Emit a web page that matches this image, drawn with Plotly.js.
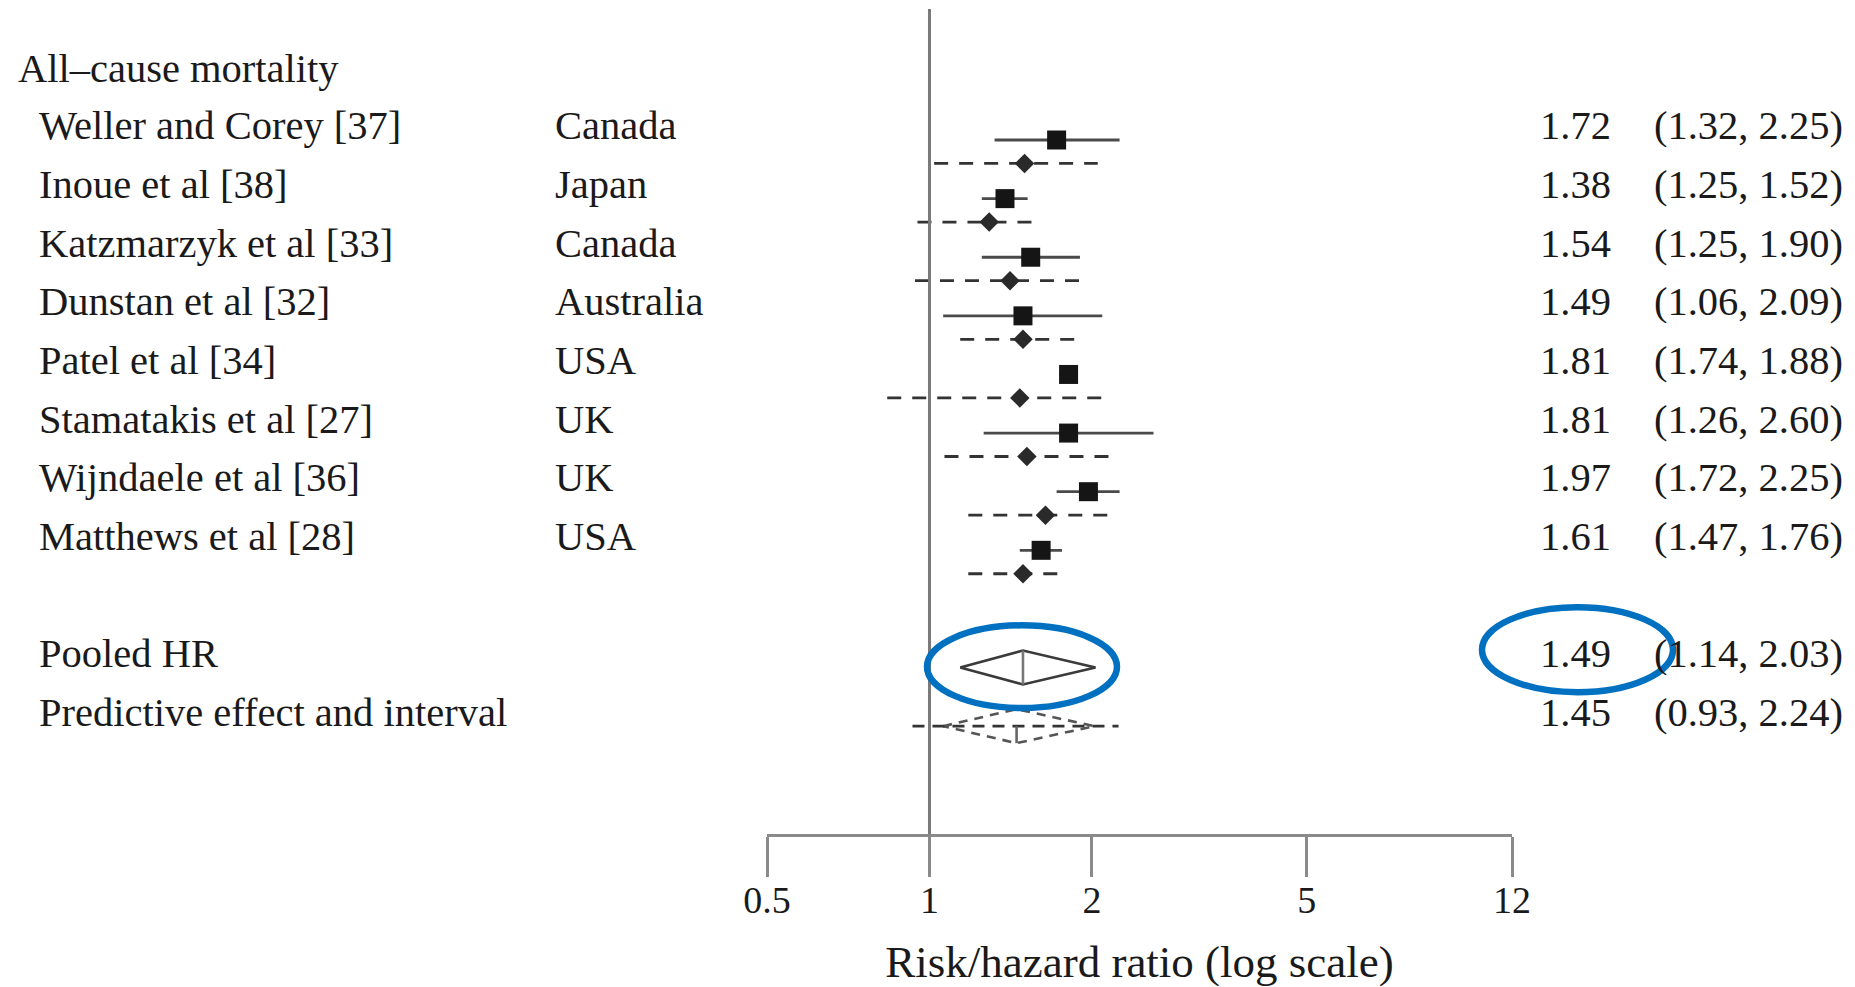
<!DOCTYPE html>
<html>
<head>
<meta charset="utf-8">
<script src="https://cdn.plot.ly/plotly-3.0.1.min.js"></script>
<style>html,body{margin:0;padding:0;background:#fff;}#chart{width:1855px;height:987px;}</style>
</head>
<body>
<div id="chart"></div>
<script>
// ---- data ----
const header = "All\u2013cause mortality";
const studies = ["Weller and Corey [37]", "Inoue et al [38]", "Katzmarzyk et al [33]", "Dunstan et al [32]",
  "Patel et al [34]", "Stamatakis et al [27]", "Wijndaele et al [36]", "Matthews et al [28]"];
const countries = ["Canada", "Japan", "Canada", "Australia", "USA", "UK", "UK", "USA"];
const hr = [1.72, 1.38, 1.54, 1.49, 1.81, 1.81, 1.97, 1.61];
const hrLow = [1.32, 1.25, 1.25, 1.06, 1.74, 1.26, 1.72, 1.47];
const hrHigh = [2.25, 1.52, 1.90, 2.09, 1.88, 2.60, 2.25, 1.76];
const shrunkEst = [1.50, 1.29, 1.41, 1.49, 1.47, 1.515, 1.64, 1.49];
const shrunkLow = [1.02, 0.95, 0.94, 1.14, 0.835, 1.066, 1.18, 1.18];
const shrunkHigh = [2.05, 1.56, 1.90, 1.89, 2.17, 2.16, 2.19, 1.75];
const summaryLabels = ["Pooled HR", "Predictive effect and interval"];
const summaryEst = [1.49, 1.45];
const summaryLow = [1.14, 0.93];
const summaryHigh = [2.03, 2.24];
const predDiamond = [1.06, 2.02];
const tickVals = [0.5, 1, 2, 5, 12];
const tickText = ["0.5", "1", "2", "5", "12"];
const xTitle = "Risk/hazard ratio (log scale)";

// ---- layout helpers ----
const FONT = "Liberation Serif, Times New Roman, serif";
const TXT = "#1a1a1a";
const n = studies.length;
const rowY = i => i;               // square row
const subY = i => i + 0.4;         // shrunk estimate row
const pooledY = n + 1;
const predY = n + 2;
const textOff = -0.24;
const dh = 0.29;

const traces = [];
// solid CI lines
let cx = [], cy = [];
for (let i = 0; i < n; i++) { cx.push(hrLow[i], hrHigh[i], null); cy.push(rowY(i), rowY(i), null); }
traces.push({x: cx, y: cy, mode: "lines", line: {color: "#4a4a4a", width: 2.8}, hoverinfo: "skip"});
// dashed intervals
let dx = [], dy = [];
for (let i = 0; i < n; i++) { dx.push(shrunkLow[i], shrunkHigh[i], null); dy.push(subY(i), subY(i), null); }
traces.push({x: dx, y: dy, mode: "lines", line: {color: "#333", width: 2.8, dash: "14px,11px"}, hoverinfo: "skip"});
// squares
traces.push({x: hr, y: studies.map((s, i) => rowY(i)), mode: "markers",
  marker: {symbol: "square", size: 19, color: "#151515"}});
// diamonds
traces.push({x: shrunkEst, y: studies.map((s, i) => subY(i)), mode: "markers",
  marker: {symbol: "diamond", size: 15, color: "#2a2a2a"}});
// pooled diamond
traces.push({x: [summaryLow[0], summaryEst[0], summaryHigh[0], summaryEst[0], summaryLow[0]],
  y: [pooledY, pooledY - dh, pooledY, pooledY + dh, pooledY], mode: "lines",
  line: {color: "#3a3a3a", width: 2.6}, hoverinfo: "skip"});
traces.push({x: [summaryEst[0], summaryEst[0]], y: [pooledY - dh, pooledY + dh], mode: "lines",
  line: {color: "#777", width: 2.6}, hoverinfo: "skip"});
// predictive diamond (dashed) and interval
traces.push({x: [predDiamond[0], summaryEst[1], predDiamond[1], summaryEst[1], predDiamond[0]],
  y: [predY, predY - dh, predY, predY + dh, predY], mode: "lines",
  line: {color: "#555", width: 2.6, dash: "9px,7px"}, hoverinfo: "skip"});
traces.push({x: [summaryLow[1], summaryHigh[1]], y: [predY, predY], mode: "lines",
  line: {color: "#333", width: 2.6, dash: "12px,8px"}, hoverinfo: "skip"});
traces.push({x: [summaryEst[1], summaryEst[1]], y: [predY, predY + dh], mode: "lines",
  line: {color: "#666", width: 2.6}, hoverinfo: "skip"});
// reference line at 1
traces.push({x: [1, 1], y: [-2.235, 11.84], mode: "lines", line: {color: "#7a7a7a", width: 3}, hoverinfo: "skip"});

// ---- text columns ----
const W = 745, L = 767;
const px = p => (p - L) / W;
const ann = [];
const addText = (text, xpix, y, anchor) => ann.push({text: text, xref: "paper", yref: "y", x: px(xpix), y: y,
  xanchor: anchor, yanchor: "middle", showarrow: false, font: {family: FONT, size: 40.5, color: TXT}});
addText(header, 16, -1.22, "left");
const fmt = v => v.toFixed(2);
for (let i = 0; i < n; i++) {
  addText(studies[i], 37, rowY(i) + textOff, "left");
  addText(countries[i], 553, rowY(i) + textOff, "left");
  addText(fmt(hr[i]), 1613, rowY(i) + textOff, "right");
  addText("(" + fmt(hrLow[i]) + ", " + fmt(hrHigh[i]) + ")", 1652, rowY(i) + textOff, "left");
}
const sumRows = [pooledY, predY];
for (let k = 0; k < 2; k++) {
  addText(summaryLabels[k], 37, sumRows[k] + textOff, "left");
  addText(fmt(summaryEst[k]), 1613, sumRows[k] + textOff, "right");
  addText("(" + fmt(summaryLow[k]) + ", " + fmt(summaryHigh[k]) + ")", 1652, sumRows[k] + textOff, "left");
}

const layout = {
  width: 1855, height: 987,
  margin: {l: 767, r: 343, t: 9, b: 153, pad: 0},
  paper_bgcolor: "#fff", plot_bgcolor: "#fff",
  showlegend: false,
  xaxis: {type: "log", range: [Math.log10(0.5), Math.log10(12)], tickvals: tickVals, ticktext: tickText,
    showgrid: false, zeroline: false, showline: true, linecolor: "#8a8a8a", linewidth: 3,
    ticks: "outside", ticklen: 40, tickwidth: 3, tickcolor: "#8a8a8a", ticklabelstandoff: -10,
    tickfont: {family: FONT, size: 38, color: TXT}, automargin: false,
    title: {text: xTitle, font: {family: FONT, size: 45, color: TXT}, standoff: 26}},
  yaxis: {range: [11.84, -2.235], visible: false, showgrid: false, zeroline: false},
  annotations: ann,
  shapes: [
    {type: "circle", xref: "paper", yref: "y", x0: px(927), x1: px(1117), y0: 8.28, y1: 9.69,
      line: {color: "#0070C0", width: 6.5}},
    {type: "circle", xref: "paper", yref: "y", x0: px(1482), x1: px(1673), y0: 7.97, y1: 9.42,
      line: {color: "#0070C0", width: 6.5}}
  ]
};
Plotly.newPlot("chart", traces, layout, {displayModeBar: false, staticPlot: true});
</script>
</body>
</html>
